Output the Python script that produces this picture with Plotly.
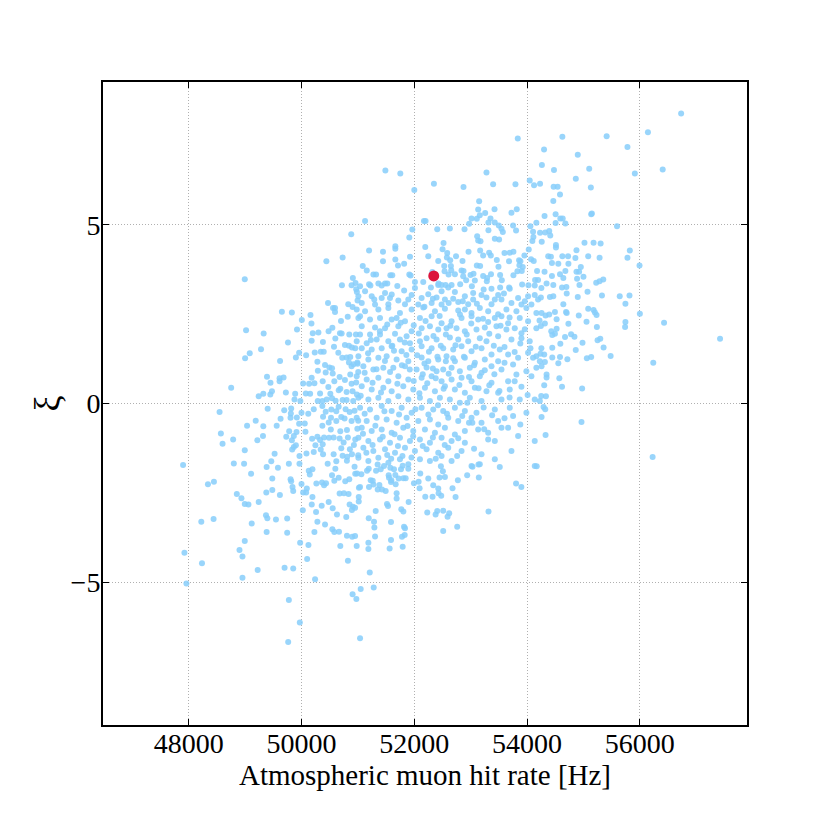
import plotly.graph_objects as go

# (rate [Hz], xi) pairs, grouped by region of the plot
top_left = [(50882,4.74),(50729,4.09),(50441,3.98),(48994,3.48),(50911,3.51),(50958,3.37),(50717,3.31),(50888,3.31),(50970,3.2)]

top_centre = [(53835,7.42),(54301,7.11),(51487,6.52),(51752,6.44),(53280,6.47),(52348,6.15),(52000,5.98),(52873,6.06),(53398,6.14),(53794,6.14),
(54047,6.24),(54124,6.11),(54230,6.15),(53150,5.66),(53133,5.43),(53257,5.33),(53423,5.44),(53723,5.34),(53817,5.44),(53162,5.27),
(53015,5.18),(53351,5.18),(53109,5.17),(52973,5.03),(53315,5.07),(53427,5.07),(51127,5.11),(52171,5.11),(52200,5.11),(52891,4.88),
(52631,4.9),(52407,4.88),(51965,4.87),(53499,4.98),(53546,4.89),(53570,4.8),(53315,4.85),(53805,4.84),(53752,4.98),(54059,4.96),
(54165,5.06),(54106,4.81),(54230,4.78),(51912,4.65),(53115,4.68),(53133,4.56),(53174,4.54),(53428,4.61),(53504,4.59),(54112,4.66),
(54094,4.55),(54260,4.53),(52519,4.49),(52195,4.38),(52501,4.32),(51664,4.4),(51664,4.33),(51198,4.28),(51445,4.25),(52584,4.21),
(52962,4.25),(53168,4.28),(53327,4.22),(53357,4.14),(53221,4.14),(53599,4.21),(53693,4.22),(53758,4.25),(54030,4.31),(53953,4.14),
(54071,4.04),(54118,3.99),(51924,4.11),(52248,4.12),(52425,3.99),(52578,4.09),(52637,4.01),(52855,3.99),(53463,4.02),(53858,4.01),
(53882,3.98),(53864,3.87),(51664,4.03),(51711,3.86),(51445,3.98),(51086,3.85),(51157,3.72),(51275,3.61),(51322,3.61),(51575,3.59),
(51610,3.59),(51912,3.61),(51935,3.58),(52531,3.85),(52649,3.85),(52655,3.73),(52537,3.7),(52608,3.61),(52720,3.62),(52838,3.72),
(52873,3.71),(52867,3.56),(52997,3.6),(53109,3.86),(53168,3.85),(53050,3.63),(53074,3.44),(53221,3.57),(53292,3.51),(53493,3.83),
(53522,3.6),(53552,3.45),(53758,3.59),(53829,3.7),(53923,3.82),(53906,3.71),(54177,3.71),(54142,3.46),(54195,3.46),(51198,3.34),
(51222,3.3),(51363,3.36),(51481,3.36),(51522,3.36),(51699,3.29),(52012,3.4),(52159,3.4),(52295,3.25),(52425,3.32),(52484,3.32),
(52555,3.32),(52661,3.32),(52814,3.34),(53021,3.28),(53286,3.42),(53522,3.25),(53682,3.25),(53912,3.33),(54024,3.31)]

top_right = [(56732,8.12),(56143,7.59),(54626,7.47),(55411,7.48),(55780,7.18),(54899,6.96),(54263,6.68),(54477,6.54),(55102,6.57),
(56405,6.55),(55911,6.44),(54864,6.29),(54471,6.07),(54542,6.07),(55131,6.05),(54584,5.85),(54465,5.67),(54310,5.25),(54506,5.3),
(55137,5.3),(55149,5.32),(54590,5.18),(54632,5.18),(54506,5.05),(54679,5.04),(55595,4.96),(54322,4.79),(54393,4.83),(54411,4.7),
(54512,4.44),(54512,4.37),(55018,4.5),(55179,4.5),(55304,4.48),(54876,4.29),(55822,4.28),(54375,4.12),(54423,4.11),(54626,4.12),
(54727,4.12),(54857,4.07),(55084,4.12),(55286,4.08),(55780,4.08),(54441,3.93),(54554,3.91),(54733,3.91),(54953,3.82),(55994,3.86),
(54310,3.69),(54679,3.71),(54876,3.69),(54923,3.69),(54441,3.57),(54584,3.62),(54643,3.51),(54887,3.49),(55000,3.55),(55226,3.38),
(55286,3.42),(55351,3.47),(54346,3.36),(54465,3.32),(54620,3.25),(54697,3.26),(54929,3.32)]

mid_left = [(50470,2.81),(50559,2.67),(50594,2.67),(50594,2.56),(50829,2.78),(50906,2.7),(50982,3.12),(50994,2.88),(49652,2.57),(49829,2.55),
(50006,2.34),(50159,2.48),(50176,2.24),(50547,2.12),(50200,1.97),(50300,1.99),(50682,1.97),(50712,1.96),(50847,1.93),(50965,1.93),
(49017,2.05),(49329,1.96),(49282,1.52),(49082,1.41),(49000,1.27),(49900,1.29),(49958,1.42),(50082,1.35),(50235,1.43),(50341,1.45),
(50394,1.45),(50282,1.17),(50417,1.08),(50429,0.87),(50494,1.01),(50576,1.59),(50653,1.42),(50723,1.28),(50770,1.64),(50841,1.62),
(50894,1.57),(50953,1.55),(50800,1.29),(50865,1.3),(50841,1.15),(50888,1.04),(50923,1.1),(50994,1.11),(51006,0.88),(50541,0.99),
(50553,0.84),(50770,0.66),(50865,0.81),(50888,0.55),(50970,0.59),(50676,0.74),(50582,0.62),(50688,0.41),(50800,0.32),(50906,0.34),
(50982,0.25),(50917,0.07),(49388,0.75),(49611,0.71),(49682,0.73),(49611,0.62),(48753,0.44),(49241,0.2),(49323,0.27),(49447,0.25),
(49476,0.34),(49723,0.31),(49888,0.27),(49876,0.11),(50029,0.56),(50135,0.55),(50229,0.57),(50076,0.28),(50153,0.27),(50329,0.28),
(50376,0.62),(50476,0.46),(50511,0.27),(50288,0.07),(50370,0.07),(50447,0.11),(50541,0.15),(50605,0.08),(50729,0.1),(50800,0.1),
(48547,-0.24),(49400,-0.15),(49694,-0.19),(49817,-0.14),(49811,-0.28),(50000,-0.26),(50217,-0.16),(50370,-0.07),(50429,-0.23),(50529,-0.17),
(50523,-0.4),(50617,-0.22),(50705,-0.38),(50764,-0.42),(50853,-0.24),(50941,-0.2),(50888,-0.49),(51006,-0.48),(50782,-0.16),(50659,-0.09),
(49629,-0.43),(49188,-0.48),(49035,-0.62),(49323,-0.64),(49805,-0.4),(49917,-0.39),(49958,-0.57),(50058,-0.56),(50382,-0.37),(50482,-0.53),
(50617,-0.49),(50806,-0.74),(48570,-0.84),(48788,-1.01),(48600,-1.13),(49217,-1.03),(49317,-0.91),(48994,-1.31),(49782,-0.78),(49911,-0.8),
(50070,-0.79),(49864,-0.91),(49829,-1.03),(49864,-1.22),(49835,-1.29),(49900,-1.17),(50188,-0.99),(50282,-0.93),(50329,-1.02),(50376,-1.14),
(50341,-1.29),(50217,-1.36),(50088,-1.4),(50247,-1.17),(50400,-0.95),(50488,-0.96),(50570,-0.95),(50676,-0.98),(50688,-0.78),(50747,-1.09),
(50823,-0.95),(50953,-1.01),(50929,-1.16),(50858,-1.28),(50705,-1.25),(50382,-1.42),(50570,-1.42),(50729,-1.46),(50811,-1.49),(50894,-1.42),
(51006,-1.45),(49523,-1.41),(49464,-1.62),(48800,-1.68),(48982,-1.69),(49776,-1.69),(49964,-1.69),(49964,-1.47),(50464,-1.69),(50617,-1.62),
(50805,-1.6),(50941,-1.77)]

mid_centre = [(51038,3.28),(51422,3.30),(52012,3.23),(52602,3.25),(53369,3.21),(53693,3.21),(54136,3.30),(54254,3.23),
(51127,3.14),(51481,3.09),(51953,3.04),(52248,3.06),(52484,3.14),(52720,3.12),(53044,3.09),(53192,3.04),(53487,3.04),(54136,3.04),
(51009,3.00),(51245,3.00),(51422,2.95),(51569,2.95),(51717,2.88),(51894,2.91),(52130,2.95),(52395,2.97),(52543,2.91),(52690,2.93),
(52897,3.00),(53044,2.91),(53280,2.97),(53428,2.91),(53546,2.91),(53841,2.95),(54018,3.00),(54195,2.91),(51068,2.81),(51304,2.77),
(51540,2.78),(51835,2.78),(52071,2.77),(52307,2.81),(52484,2.77),(52779,2.84),(52956,2.78),(53369,2.78),(53723,2.81),(53900,2.77),
(54077,2.77),
(50979,2.63),(51127,2.58),(51363,2.63),(51540,2.67),(51746,2.53),(51953,2.63),(52159,2.69),(52366,2.58),(52543,2.65),(52779,2.60),
(52897,2.63),(53015,2.53),(53162,2.67),(53310,2.58),(53487,2.50),(53634,2.63),(53811,2.58),(53988,2.67),(54165,2.53),(51038,2.44),
(51009,2.39),(51215,2.35),(51392,2.39),(51599,2.35),(51687,2.39),(51835,2.30),(52100,2.39),(52307,2.44),(52484,2.25),(52661,2.30),
(52838,2.39),(53015,2.44),(53133,2.35),(53310,2.28),(53428,2.39),(53546,2.44),(53664,2.25),(53870,2.39),(54018,2.30),
(51068,2.16),(51304,2.13),(51481,2.11),(51717,2.16),(51953,2.02),(52130,2.11),(52277,2.16),(52425,2.07),(52572,2.11),(52749,2.11),
(52897,2.02),(53103,2.07),(53251,2.13),(53457,2.16),(53634,2.07),(53782,2.11),(53900,1.97),(54165,2.11),(51038,1.93),(51215,1.93),
(51392,1.93),(51658,1.95),(51864,1.88),
(50979,1.74),(51156,1.69),(51333,1.79),(51540,1.74),(51746,1.79),(51923,1.69),(52100,1.74),(52218,1.83),(52395,1.79),(52631,1.85),
(52779,1.79),(52956,1.74),(53162,1.83),(53280,1.74),(53487,1.88),(53723,1.79),(53900,1.83),(54047,1.74),
(51068,1.55),(51245,1.51),(51422,1.55),(51599,1.60),(51776,1.46),(51953,1.51),(52130,1.60),(52307,1.55),(52513,1.55),(52690,1.51),
(52838,1.60),(53015,1.46),(53192,1.55),(53369,1.37),(53516,1.51),(53664,1.37),(54018,1.42),(54165,1.32),(54254,1.55),
(51009,1.32),(51186,1.23),(51363,1.28),(51510,1.32),(51687,1.23),(51894,1.18),(52130,1.29),(52248,1.18),(52425,1.23),(52572,1.32),
(52720,1.18),(52897,1.28),(53074,1.14),(53251,1.23),(53487,1.18),(53752,1.09),(53841,1.28),(54106,1.28),
(51097,1.04),(51274,0.95),(51451,1.00),(51628,1.00),(51835,1.04),(52041,0.95),(52218,1.01),(52395,0.90),(52513,0.95),(52661,1.00),
(52808,0.90),(52985,1.00),(53192,0.86),(53369,1.04),(53546,0.95),(53811,0.81),(53988,0.90),(54165,1.00),
(50979,0.76),(51156,0.67),(51363,0.72),(51540,0.62),(51717,0.76),(51894,0.67),(52130,0.72),(52307,0.76),(52484,0.62),(52661,0.67),
(52838,0.72),(53015,0.62),(53162,0.76),(53369,0.58),(53664,0.62),(54077,0.76),
(51068,0.48),(51245,0.39),(51451,0.44),(51599,0.34),(51805,0.48),(51982,0.39),(52189,0.44),(52366,0.34),(52543,0.48),(52720,0.39),
(52897,0.30),(53074,0.44),(53280,0.34),(53487,0.30),(53693,0.39),(53870,0.11),
(51009,0.16),(51186,0.11),(51363,0.16),(51540,0.07),(51717,0.20),(51894,0.11),(52100,0.16),(52277,0.07),(52454,0.16),(52631,0.11),
(52808,0.02),(52985,0.16),(53192,0.07),(53546,0.11),(54136,0.11),
(51038,-0.12),(51215,-0.17),(51422,-0.07),(51599,-0.21),(51776,-0.12),(51953,-0.26),(52130,-0.12),(52336,-0.17),(52513,-0.21),(52720,-0.12),
(52897,-0.21),(53103,-0.26),(53428,-0.17),(53693,-0.12),(53988,-0.26),
(50979,-0.40),(51156,-0.49),(51333,-0.40),(51510,-0.45),(51687,-0.54),(51864,-0.40),(52071,-0.49),(52277,-0.45),(52425,-0.59),(52602,-0.40),
(52779,-0.49),(53015,-0.40),(53192,-0.54),(53487,-0.49),(53752,-0.35),
(51068,-0.68),(51245,-0.77),(51422,-0.73),(51599,-0.82),(51805,-0.68),(51982,-0.77),(52189,-0.73),(52366,-0.82),(52543,-0.68),(52720,-0.87),
(52897,-0.77),(53133,-0.73),(53310,-0.82),(53546,-0.68),(53664,-0.68),(53841,-0.91),
(51009,-0.96),(51186,-1.05),(51392,-1.01),(51569,-1.10),(51746,-0.96),(51923,-1.05),(52100,-1.01),(52277,-1.10),(52484,-0.96),(52661,-1.05),
(52897,-1.10),(53310,-1.01),(53428,-1.05),(54136,-1.05),
(51097,-1.24),(51274,-1.33),(51481,-1.28),(51658,-1.38),(51835,-1.24),(52012,-1.33),(52218,-1.28),(52425,-1.38),(52602,-1.24),(52838,-1.33),
(53192,-1.42),(53723,-1.33),
(51009,-1.52),(51186,-1.61),(51363,-1.52),(51540,-1.66),(51746,-1.56),(51894,-1.70),(52100,-1.56),(52277,-1.61),(52484,-1.47),(52661,-1.61),
(53015,-1.75),(53162,-1.70),(53428,-1.56),(53516,-1.78),(54136,-1.75)]

# overlapping dots in the dense core, estimated where single dots could not be separated
core_overlap = [(52050,1.35),(52180,1.12),(52260,1.45),(52330,0.98),(52410,1.31),(52470,1.62),(52560,1.18),(52610,0.83),(52690,1.27),(52150,0.82),
(52230,0.57),(52380,0.71),(52520,0.41),(52090,0.29),(51990,0.63),(51920,0.95),(51860,1.36),(51780,1.07),(51700,0.55),(51640,1.48),
(51570,0.88),(51480,1.19),(51410,0.31),(51330,0.96),(51260,0.58),(51180,1.41),(51120,0.86),(51050,0.22),(50990,1.15),(51230,1.78),
(51390,2.02),(51520,2.21),(51610,1.62),(51760,2.26),(51830,1.71),(51990,2.19),(52080,1.96),(52200,2.31),(52340,1.89),(52450,2.45),
(52560,1.93),(52640,2.18),(52730,1.63),(52810,2.49),(52930,1.93),(53010,2.24),(53090,1.59),(53220,2.37),(53330,1.95),(53410,1.62),
(53530,2.18),(53600,1.58),(53690,2.41),(53780,1.44),(53880,1.68),(53960,2.08),(54060,1.55),(52880,1.31),(52970,0.74),(53060,1.07),
(53140,0.43),(53250,0.93),(53330,0.51),(53420,0.82),(53510,0.35),(53600,1.14),(53690,0.17),(53780,0.62),(53900,0.47),(54010,0.24),
(52800,0.52),(52850,-0.35),(52940,0.02),(53030,-0.54),(53230,-0.11),(53380,-0.33),(53600,-0.41),(53880,-0.59),(52580,-0.29),(52420,-0.05),
(52250,-0.31),(52020,-0.16),(51880,-0.63),(51730,-0.31),(51650,-0.86),(51470,-0.22),(51310,-0.62),(51120,-0.29),(50990,-0.71),(51090,-0.85),
(51260,-1.16),(51440,-0.93),(51520,-1.44),(51710,-1.19),(51790,-1.47),(51980,-0.92),(52150,-1.19),(52330,-0.95),(52540,-1.16),(52780,-0.97),
(52970,-0.54),(53060,-1.27),(53240,-0.72),(51150,-1.38),(51350,-1.71),(51590,-1.55),(51950,-1.51),(52380,-1.55),(52760,-1.47),(52180,2.71),
(52330,2.93),(52610,2.81),(52860,2.86),(53110,2.79),(53230,3.19),(53590,3.08),(53960,2.86),(51820,3.16),(51600,3.05),(51290,2.91),
(52430,3.36),(52920,3.45),(53360,3.62),(52740,4.12),(52320,3.68),(51820,3.91),(53680,3.98),(50820,2.43),(50700,2.31),(50600,1.82),
(50480,2.02),(50380,1.72),(50290,0.92),(50180,0.72),(50660,0.37),(50520,-0.73),(50370,-0.62),(50120,-0.29),(49980,0.07),(49730,-0.93),
(49560,-0.62),(50180,1.76),(49760,1.71),(49620,1.19),(49450,0.58),(49920,2.07)]

mid_right = [(55072,3.13),(55328,3.02),(55643,3.0),(55816,3.02),(54245,2.97),(54405,2.98),(54465,3.0),(54703,3.08),(54899,2.98),(54643,2.78),
(55744,2.79),(55084,2.65),(55179,2.62),(55203,2.55),(55232,2.48),(54257,2.53),(54328,2.46),(54393,2.49),(54494,2.56),(54691,2.56),
(54703,2.53),(54917,2.46),(56000,2.51),(56429,2.26),(57422,1.81),(54221,2.32),(54245,2.17),(54316,2.24),(54524,2.36),(54733,2.23),
(55054,2.29),(55238,2.14),(55744,2.28),(55738,2.14),(54429,2.02),(54524,2.09),(54494,1.95),(54447,1.92),(54673,1.86),(54780,1.94),
(54840,1.87),(54983,1.7),(55250,1.77),(55298,1.81),(55357,1.57),(54590,1.67),(54447,1.56),(54863,1.5),(54239,1.39),(54304,1.37),
(54227,1.18),(54316,1.16),(54257,1.04),(54447,1.29),(54584,1.3),(54554,1.13),(54715,1.24),(55060,1.27),(55137,1.3),(55482,1.33),
(56238,1.14),(54346,0.81),(54346,0.73),(54572,0.71),(54304,0.51),(54620,0.47),(54976,0.42),(54251,0.21),(54334,0.2),(54227,0.07),
(54292,-0.1),(54322,-0.16),(54257,-0.38),(54965,-0.52),(54328,-0.88),(56226,-1.5)]

low_left = [(47900,-1.72),(49382,-1.78),(49582,-1.8),(49106,-1.97),(48447,-2.19),(48341,-2.26),(49482,-2.1),(49806,-2.12),(49817,-2.18),(50000,-2.25),
(50129,-1.88),(50147,-1.99),(50094,-2.38),(50082,-2.49),(50029,-2.49),(50194,-1.84),(50541,-2.01),(50582,-2.16),(50659,-2.08),(50600,-1.83),
(50776,-2.18),(50847,-2.12),(50953,-1.97),(51018,-2.36),(50264,-2.24),(50364,-2.21),(50400,-2.29),(50435,-2.23),(49841,-2.34),(49853,-2.45),
(49482,-2.42),(49617,-2.56),(49376,-2.49),(48853,-2.53),(48935,-2.65),(48994,-2.81),(49059,-2.83),(49241,-2.76),(50194,-2.62),(50182,-2.83),
(50258,-3.04),(50358,-2.86),(50482,-2.76),(50553,-2.93),(50629,-3.11),(50676,-2.52),(50753,-2.51),(50835,-2.53),(50853,-2.83),(50912,-2.89),
(50894,-2.98),(50794,-3.18),(50023,-2.99),(50282,-3.31),(50417,-3.39),(50547,-3.52),(50582,-3.6),(50665,-3.59),(50806,-3.7),(50899,-3.73),
(50688,-3.99),(50823,-4.4),(50229,-3.6),(50123,-3.96),(49976,-3.9),(50100,-4.35),(50241,-4.92),(49370,-3.13),(49394,-3.21),(49547,-3.25),
(49746,-3.22),(49746,-3.62),(49382,-3.6),(49117,-3.36),(48994,-3.85),(48900,-4.1),(48953,-4.28),(48223,-3.31),(48441,-3.23),(47924,-4.18),
(48235,-4.47),(47959,-5.04),(49223,-4.66),(48953,-4.88),(49700,-4.6),(49853,-4.62),(49776,-5.5),(49970,-6.13),(49764,-6.68),(50906,-5.34)]

low_centre = [(54171,-1.76),(53805,-2.24),(53899,-2.34),(53032,-1.77),(53138,-1.71),(53144,-2.07),(52938,-2.01),(52773,-2.15),(52678,-2.37),(52732,-2.62),
(52543,-2.06),(52448,-2.07),(52507,-1.9),(52472,-1.76),(52106,-1.96),(52248,-2.1),(52077,-2.19),(52094,-2.37),(51994,-2.23),(52336,-2.29),
(52425,-2.38),(52431,-2.51),(52478,-2.58),(52324,-2.61),(52195,-2.61),(53316,-3.02),(52407,-3.01),(52378,-3.11),(52513,-3.0),(52619,-3.07),
(52590,-3.17),(52230,-3.05),(52761,-3.45),(52513,-3.57),(51894,-1.83),(51847,-2.09),(51806,-2.09),(51723,-2.1),(51664,-2.0),(51764,-1.84),
(51794,-1.74),(51640,-1.84),(51575,-1.8),(51546,-2.01),(51552,-2.08),(51593,-2.15),(51587,-2.2),(51670,-2.26),(51687,-2.51),(51687,-2.66),
(51900,-2.76),(51516,-2.81),(51534,-2.87),(51770,-2.96),(51806,-3.02),(51587,-3.32),(51818,-3.45),(51835,-3.49),(51830,-3.68),(51782,-3.73),
(51587,-3.82),(51794,-4.01),(51563,-4.06),(51493,-2.45),(51428,-2.41),(51351,-2.41),(51381,-2.28),(51275,-2.27),(51197,-2.34),(51038,-2.34),
(51263,-2.16),(51227,-2.15),(51192,-1.83),(51162,-1.88),(51322,-1.88),(51405,-1.84),(51463,-1.75),(50985,-1.96),(51062,-1.98),(51015,-2.62),
(51015,-2.74),(51316,-3.01),(51192,-3.21),(51286,-3.31),(51292,-3.47),(51304,-3.72),(51186,-3.9),(51186,-4.07),(50979,-3.99),(51210,-4.73),
(51280,-5.15),(51050,-5.19),(50973,-5.47),(51038,-6.57),(50950,-2.92),(50950,-3.71)]

# highlighted measurement
highlight_rate = [52345]
highlight_xi = [3.57]

x_ticks = [48000, 50000, 52000, 54000, 56000]
x_tick_labels = ["48000", "50000", "52000", "54000", "56000"]
y_ticks = [-5, 0, 5]
y_tick_labels = ["\u22125", "0", "5"]

all_points = (top_left + top_centre + top_right + mid_left + mid_centre + core_overlap
              + mid_right + low_left + low_centre)
rate_hz = [p[0] for p in all_points]
xi = [p[1] for p in all_points]

FONT = "Liberation Serif"

fig = go.Figure()
fig.add_trace(go.Scatter(
    x=rate_hz, y=xi, mode="markers",
    marker=dict(size=6, color="#87CEFA", opacity=0.85, line=dict(width=0)),
    hoverinfo="skip", showlegend=False,
))
fig.add_trace(go.Scatter(
    x=highlight_rate, y=highlight_xi, mode="markers",
    marker=dict(size=11, color="#DC143C", line=dict(width=0)),
    showlegend=False,
))

axis_common = dict(
    showline=True, linecolor="black", linewidth=2, mirror="allticks",
    ticks="inside", ticklen=6, tickwidth=1, tickcolor="black",
    showgrid=True, gridcolor="#b0b0b0", gridwidth=1, griddash="1px,2px",
    zeroline=False,
    tickfont=dict(family=FONT, size=28, color="black"),
)

fig.update_layout(
    width=830, height=830,
    margin=dict(l=95, r=91, t=74, b=113),
    paper_bgcolor="white", plot_bgcolor="white",
    showlegend=False,
    xaxis=dict(range=[46480, 57900], tickvals=x_ticks, ticktext=x_tick_labels,
               title=dict(text="Atmospheric muon hit rate [Hz]", font=dict(family=FONT, size=29, color="black"), standoff=6),
               **axis_common),
    yaxis=dict(range=[-9, 9], tickvals=y_ticks, ticktext=y_tick_labels,
               title=dict(text="\u03be", font=dict(family=FONT, size=36, color="black"), standoff=0),
               **axis_common),
)

# pull the tick labels a little closer to the frame, as in the reference
try:
    fig.update_xaxes(ticklabelstandoff=-8)
    fig.update_yaxes(ticklabelstandoff=-5)
except Exception:
    pass

fig.write_html("out.html")
